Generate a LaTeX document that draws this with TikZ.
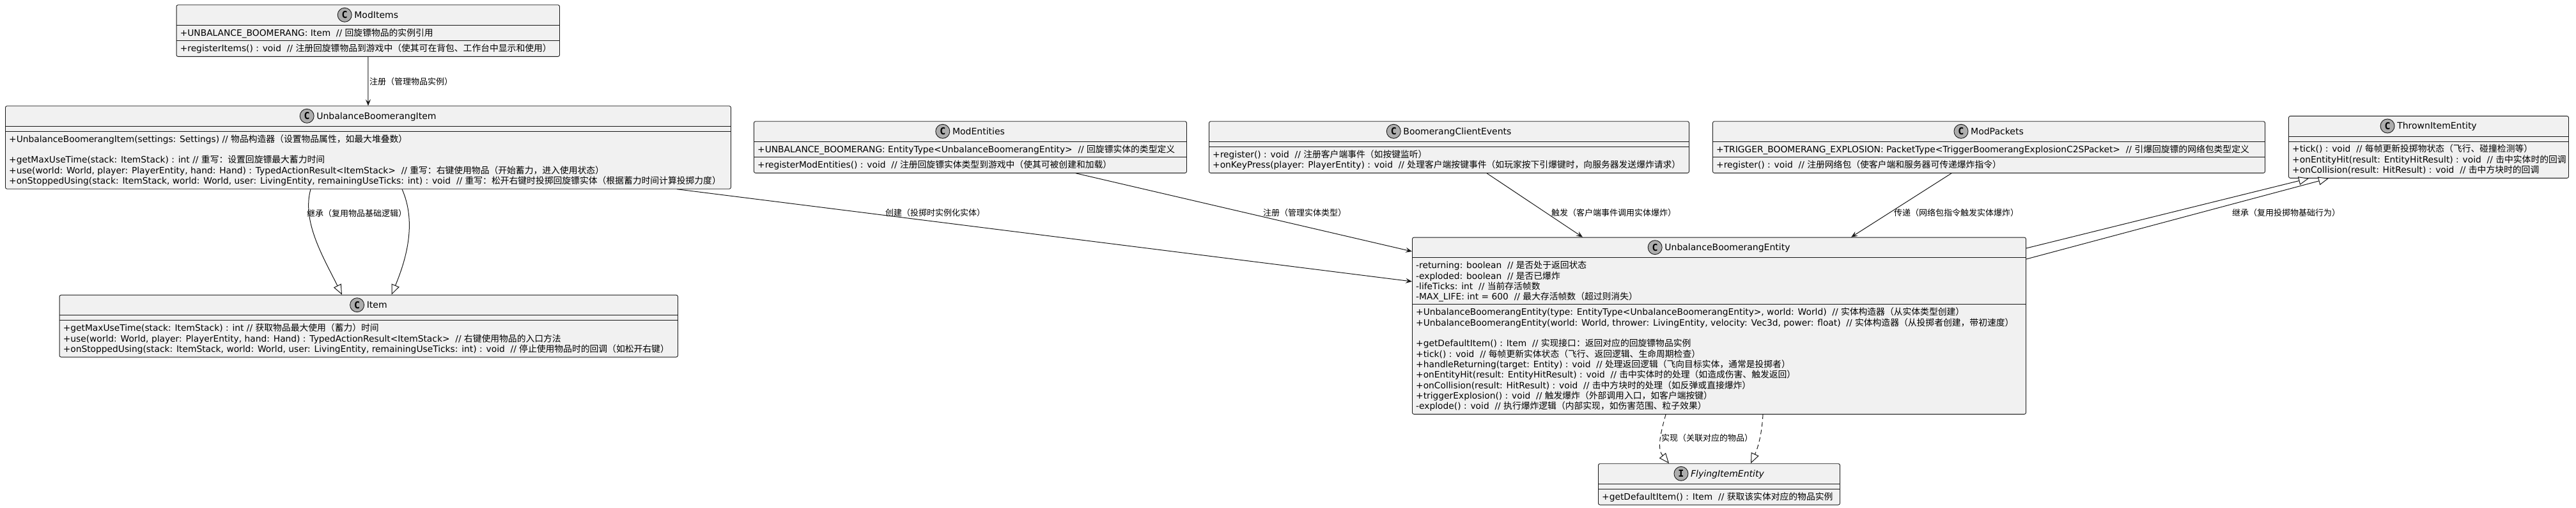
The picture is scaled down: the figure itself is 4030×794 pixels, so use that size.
\documentclass[tikz,border=0pt]{standalone}
\usepackage{fontspec}
\setmainfont{DejaVu Sans}
\newfontfamily\cjkf{Noto Sans CJK SC}
\newfontfamily\monof{DejaVu Sans Mono}
\usetikzlibrary{arrows.meta,calc}
\XeTeXinterchartokenstate=1
\chardef\CJKcls=10
\newcount\cjkc
\cjkc="4E00 \loop\XeTeXcharclass\cjkc=\CJKcls\advance\cjkc by 1\relax\ifnum\cjkc<"A000 \repeat
\cjkc="3000 \loop\XeTeXcharclass\cjkc=\CJKcls\advance\cjkc by 1\relax\ifnum\cjkc<"3040 \repeat
\cjkc="FF00 \loop\XeTeXcharclass\cjkc=\CJKcls\advance\cjkc by 1\relax\ifnum\cjkc<"FFF0 \repeat
\XeTeXinterchartoks 0 \CJKcls={\cjkf}
\XeTeXinterchartoks 4095 \CJKcls={\cjkf}
\XeTeXinterchartoks \CJKcls 0={\rmfamily}
\XeTeXinterchartoks \CJKcls 4095={\rmfamily}
\definecolor{lc}{HTML}{181818}
\definecolor{bg}{HTML}{F1F1F1}
\definecolor{cg}{HTML}{ADADAD}
\tikzset{
  box/.style={draw=lc, fill=bg, line width=0.9pt, rounded corners=2.5pt, rectangle, inner sep=0pt, anchor=north west},
  sep/.style={draw=lc, line width=0.9pt},
  txt/.style={anchor=base west, inner sep=0pt, font=\fontsize{13.8}{16}\selectfont},
  ttl/.style={anchor=base, inner sep=0pt, font=\fontsize{14}{16}\selectfont},
  cls/.style={circle, draw=lc, fill=cg, minimum size=22pt, inner sep=0pt, line width=0.9pt, font=\monof\bfseries\fontsize{15}{15}\selectfont},
  elabel/.style={anchor=base west, inner sep=0pt, font=\fontsize{13}{15}\selectfont},
  assoc/.style={draw=lc, line width=1pt, -{Stealth[length=10pt,width=8pt,inset=4pt]}},
  ext/.style={draw=lc, line width=1pt, -{Triangle[length=16pt,width=13pt,fill=white]}},
  real/.style={ext, dash pattern=on 7pt off 5pt}
}
\begin{document}
\begin{tikzpicture}[x=1pt,y=-1pt]
\useasboundingbox (0,0) rectangle (4030,794);
% ---------- ModItems
\node[box, minimum width=599.4pt, minimum height=80.6pt] (mi) at (275.6,7.3) {};
\draw[sep] ($(mi.north west)+(0,32)$) -- ($(mi.north east)+(0,32)$);
\draw[sep] ($(mi.north west)+(0,56.3)$) -- ($(mi.north east)+(0,56.3)$);
\node[ttl] (mi-t) at ($(mi.north)+(13,21)$) {ModItems};
\node[cls] (mi-c) at ($(mi-t.base west)+(-15,-5)$) {C};
\node[txt] (mi-a1) at ($(mi.north west)+(6,49)$) {+UNBALANCE\_BOOMERANG: Item\ \ // 回旋镖物品的实例引用};
\node[txt] (mi-m1) at ($(mi.north west)+(6,73.3)$) {+registerItems() : void\ \ // 注册回旋镖物品到游戏中（使其可在背包、工作台中显示和使用）};
% ---------- UnbalanceBoomerangItem
\node[box, minimum width=1135pt, minimum height=129.5pt] (ubi) at (8,165.3) {};
\draw[sep] ($(ubi.north west)+(0,32)$) -- ($(ubi.north east)+(0,32)$);
\draw[sep] ($(ubi.north west)+(0,40)$) -- ($(ubi.north east)+(0,40)$);
\node[ttl] (ubi-t) at ($(ubi.north)+(13,21)$) {UnbalanceBoomerangItem};
\node[cls] (ubi-c) at ($(ubi-t.base west)+(-15,-5)$) {C};
\node[txt] (ubi-m1) at ($(ubi.north west)+(6,57)$) {+UnbalanceBoomerangItem(settings: Settings) // 物品构造器（设置物品属性，如最大堆叠数）};
\node[txt] (ubi-m2) at ($(ubi.north west)+(6,89.6)$) {+getMaxUseTime(stack: ItemStack) : int // 重写：设置回旋镖最大蓄力时间};
\node[txt] (ubi-m3) at ($(ubi.north west)+(6,105.9)$) {+use(world: World, player: PlayerEntity, hand: Hand) : TypedActionResult<ItemStack>\ \ // 重写：右键使用物品（开始蓄力，进入使用状态）};
\node[txt] (ubi-m4) at ($(ubi.north west)+(6,122.2)$) {+onStoppedUsing(stack: ItemStack, world: World, user: LivingEntity, remainingUseTicks: int) : void\ \ // 重写：松开右键时投掷回旋镖实体（根据蓄力时间计算投掷力度）};
% ---------- Item
\node[box, minimum width=967.4pt, minimum height=96.9pt] (it) at (92.6,460.7) {};
\draw[sep] ($(it.north west)+(0,32)$) -- ($(it.north east)+(0,32)$);
\draw[sep] ($(it.north west)+(0,40)$) -- ($(it.north east)+(0,40)$);
\node[ttl] (it-t) at ($(it.north)+(13,21)$) {Item};
\node[cls] (it-c) at ($(it-t.base west)+(-15,-5)$) {C};
\node[txt] (it-m1) at ($(it.north west)+(6,57)$) {+getMaxUseTime(stack: ItemStack) : int // 获取物品最大使用（蓄力）时间};
\node[txt] (it-m2) at ($(it.north west)+(6,73.3)$) {+use(world: World, player: PlayerEntity, hand: Hand) : TypedActionResult<ItemStack>\ \ // 右键使用物品的入口方法};
\node[txt] (it-m3) at ($(it.north west)+(6,89.6)$) {+onStoppedUsing(stack: ItemStack, world: World, user: LivingEntity, remainingUseTicks: int) : void\ \ // 停止使用物品时的回调（如松开右键）};
% ---------- ModEntities
\node[box, minimum width=677pt, minimum height=80.6pt] (me) at (1179,189.3) {};
\draw[sep] ($(me.north west)+(0,32)$) -- ($(me.north east)+(0,32)$);
\draw[sep] ($(me.north west)+(0,56.3)$) -- ($(me.north east)+(0,56.3)$);
\node[ttl] (me-t) at ($(me.north)+(13,21)$) {ModEntities};
\node[cls] (me-c) at ($(me-t.base west)+(-15,-5)$) {C};
\node[txt] (me-a1) at ($(me.north west)+(6,49)$) {+UNBALANCE\_BOOMERANG: EntityType<UnbalanceBoomerangEntity>\ \ // 回旋镖实体的类型定义};
\node[txt] (me-m1) at ($(me.north west)+(6,73.3)$) {+registerModEntities() : void\ \ // 注册回旋镖实体类型到游戏中（使其可被创建和加载）};
% ---------- BoomerangClientEvents
\node[box, minimum width=751pt, minimum height=80.6pt] (bce) at (1891,189.3) {};
\draw[sep] ($(bce.north west)+(0,32)$) -- ($(bce.north east)+(0,32)$);
\draw[sep] ($(bce.north west)+(0,40)$) -- ($(bce.north east)+(0,40)$);
\node[ttl] (bce-t) at ($(bce.north)+(13,21)$) {BoomerangClientEvents};
\node[cls] (bce-c) at ($(bce-t.base west)+(-15,-5)$) {C};
\node[txt] (bce-m1) at ($(bce.north west)+(6,57)$) {+register() : void\ \ // 注册客户端事件（如按键监听）};
\node[txt] (bce-m2) at ($(bce.north west)+(6,73.3)$) {+onKeyPress(player: PlayerEntity) : void\ \ // 处理客户端按键事件（如玩家按下引爆键时，向服务器发送爆炸请求）};
% ---------- ModPackets
\node[box, minimum width=864pt, minimum height=80.6pt] (mp) at (2679,189.3) {};
\draw[sep] ($(mp.north west)+(0,32)$) -- ($(mp.north east)+(0,32)$);
\draw[sep] ($(mp.north west)+(0,56.3)$) -- ($(mp.north east)+(0,56.3)$);
\node[ttl] (mp-t) at ($(mp.north)+(13,21)$) {ModPackets};
\node[cls] (mp-c) at ($(mp-t.base west)+(-15,-5)$) {C};
\node[txt] (mp-a1) at ($(mp.north west)+(6,49)$) {+TRIGGER\_BOOMERANG\_EXPLOSION: PacketType<TriggerBoomerangExplosionC2SPacket>\ \ // 引爆回旋镖的网络包类型定义};
\node[txt] (mp-m1) at ($(mp.north west)+(6,73.3)$) {+register() : void\ \ // 注册网络包（使客户端和服务器可传递爆炸指令）};
% ---------- ThrownItemEntity
\node[box, minimum width=438pt, minimum height=96.9pt] (tie) at (3580,181) {};
\draw[sep] ($(tie.north west)+(0,32)$) -- ($(tie.north east)+(0,32)$);
\draw[sep] ($(tie.north west)+(0,40)$) -- ($(tie.north east)+(0,40)$);
\node[ttl] (tie-t) at ($(tie.north)+(13,21)$) {ThrownItemEntity};
\node[cls] (tie-c) at ($(tie-t.base west)+(-15,-5)$) {C};
\node[txt] (tie-m1) at ($(tie.north west)+(6,57)$) {+tick() : void\ \ // 每帧更新投掷物状态（飞行、碰撞检测等）};
\node[txt] (tie-m2) at ($(tie.north west)+(6,73.3)$) {+onEntityHit(result: EntityHitResult) : void\ \ // 击中实体时的回调};
\node[txt] (tie-m3) at ($(tie.north west)+(6,89.6)$) {+onCollision(result: HitResult) : void\ \ // 击中方块时的回调};
% ---------- UnbalanceBoomerangEntity
\node[box, minimum width=960pt, minimum height=276.2pt] (ube) at (2209,370.7) {};
\draw[sep] ($(ube.north west)+(0,32)$) -- ($(ube.north east)+(0,32)$);
\draw[sep] ($(ube.north west)+(0,105.2)$) -- ($(ube.north east)+(0,105.2)$);
\node[ttl] (ube-t) at ($(ube.north)+(13,21)$) {UnbalanceBoomerangEntity};
\node[cls] (ube-c) at ($(ube-t.base west)+(-15,-5)$) {C};
\node[txt] (ube-a1) at ($(ube.north west)+(6,49)$) {-returning: boolean\ \ // 是否处于返回状态};
\node[txt] (ube-a2) at ($(ube.north west)+(6,65.3)$) {-exploded: boolean\ \ // 是否已爆炸};
\node[txt] (ube-a3) at ($(ube.north west)+(6,81.6)$) {-lifeTicks: int\ \ // 当前存活帧数};
\node[txt] (ube-a4) at ($(ube.north west)+(6,97.9)$) {-MAX\_LIFE: int = 600\ \ // 最大存活帧数（超过则消失）};
\node[txt] (ube-m1) at ($(ube.north west)+(6,122.2)$) {+UnbalanceBoomerangEntity(type: EntityType<UnbalanceBoomerangEntity>, world: World)\ \ // 实体构造器（从实体类型创建）};
\node[txt] (ube-m2) at ($(ube.north west)+(6,138.5)$) {+UnbalanceBoomerangEntity(world: World, thrower: LivingEntity, velocity: Vec3d, power: float)\ \ // 实体构造器（从投掷者创建，带初速度）};
\node[txt] (ube-m3) at ($(ube.north west)+(6,171.1)$) {+getDefaultItem() : Item\ \ // 实现接口：返回对应的回旋镖物品实例};
\node[txt] (ube-m4) at ($(ube.north west)+(6,187.4)$) {+tick() : void\ \ // 每帧更新实体状态（飞行、返回逻辑、生命周期检查）};
\node[txt] (ube-m5) at ($(ube.north west)+(6,203.7)$) {+handleReturning(target: Entity) : void\ \ // 处理返回逻辑（飞向目标实体，通常是投掷者）};
\node[txt] (ube-m6) at ($(ube.north west)+(6,220)$) {+onEntityHit(result: EntityHitResult) : void\ \ // 击中实体时的处理（如造成伤害、触发返回）};
\node[txt] (ube-m7) at ($(ube.north west)+(6,236.3)$) {+onCollision(result: HitResult) : void\ \ // 击中方块时的处理（如反弹或直接爆炸）};
\node[txt] (ube-m8) at ($(ube.north west)+(6,252.6)$) {+triggerExplosion() : void\ \ // 触发爆炸（外部调用入口，如客户端按键）};
\node[txt] (ube-m9) at ($(ube.north west)+(6,268.9)$) {-explode() : void\ \ // 执行爆炸逻辑（内部实现，如伤害范围、粒子效果）};
% ---------- FlyingItemEntity
\node[box, minimum width=378pt, minimum height=64.3pt] (fie) at (2500,724.3) {};
\draw[sep] ($(fie.north west)+(0,32)$) -- ($(fie.north east)+(0,32)$);
\draw[sep] ($(fie.north west)+(0,40)$) -- ($(fie.north east)+(0,40)$);
\node[ttl, font=\itshape\fontsize{14}{16}\selectfont] (fie-t) at ($(fie.north)+(13,21)$) {FlyingItemEntity};
\node[cls] (fie-c) at ($(fie-t.base west)+(-15,-5)$) {I};
\node[txt] (fie-m1) at ($(fie.north west)+(6,57)$) {+getDefaultItem() : Item\ \ // 获取该实体对应的物品实例};
% ---------- connectors
\draw[assoc] (mi.south) -- (ubi.north);
\node[elabel] (l1) at (578,132.5) {注册（管理物品实例）};
\draw[ext] ($(ubi.south west)+(478,0)$) .. controls +(-14,50) and +(-30,-60) .. ($(it.north west)+(442.4,0)$);
\draw[ext] ($(ubi.south west)+(621,0)$) .. controls +(22,50) and +(25,-60) .. ($(it.north west)+(519.9,0)$);
\node[elabel] (l2) at (480,338.5) {继承（复用物品基础逻辑）};
\draw[assoc] ($(ubi.south west)+(1051,0)$) -- ($(ube.north west)+(0,69.3)$);
\node[elabel] (l3) at (1385,337.5) {创建（投掷时实例化实体）};
\draw[assoc] ($(me.south west)+(504,0)$) -- ($(ube.north west)+(0,22.3)$);
\node[elabel] (l4) at (1976,337.5) {注册（管理实体类型）};
\draw[assoc] ($(bce.south west)+(435,0)$) -- ($(ube.north west)+(267,0)$);
\node[elabel] (l5) at (2427,337.5) {触发（客户端事件调用实体爆炸）};
\draw[assoc] ($(mp.south west)+(374,0)$) -- ($(ube.north west)+(687,0)$);
\node[elabel] (l6) at (2963,337.5) {传递（网络包指令触发实体爆炸）};
\draw[ext] ($(ube.north east)+(0,17.3)$) -- ($(tie.south west)+(32,0)$);
\draw[ext] ($(ube.north east)+(0,34.3)$) -- ($(tie.south west)+(63,0)$);
\node[elabel] (l7) at (3492,337.5) {继承（复用投掷物基础行为）};
\draw[real] ($(ube.south west)+(397,0)$) .. controls +(-10,35) and +(-18,-22) .. ($(fie.north west)+(111,0)$);
\draw[real] ($(ube.south west)+(549,0)$) .. controls +(-2,35) and +(10,-22) .. ($(fie.north west)+(239,0)$);
\node[elabel] (l8) at (2599,689.5) {实现（关联对应的物品）};
\end{tikzpicture}
\end{document}
